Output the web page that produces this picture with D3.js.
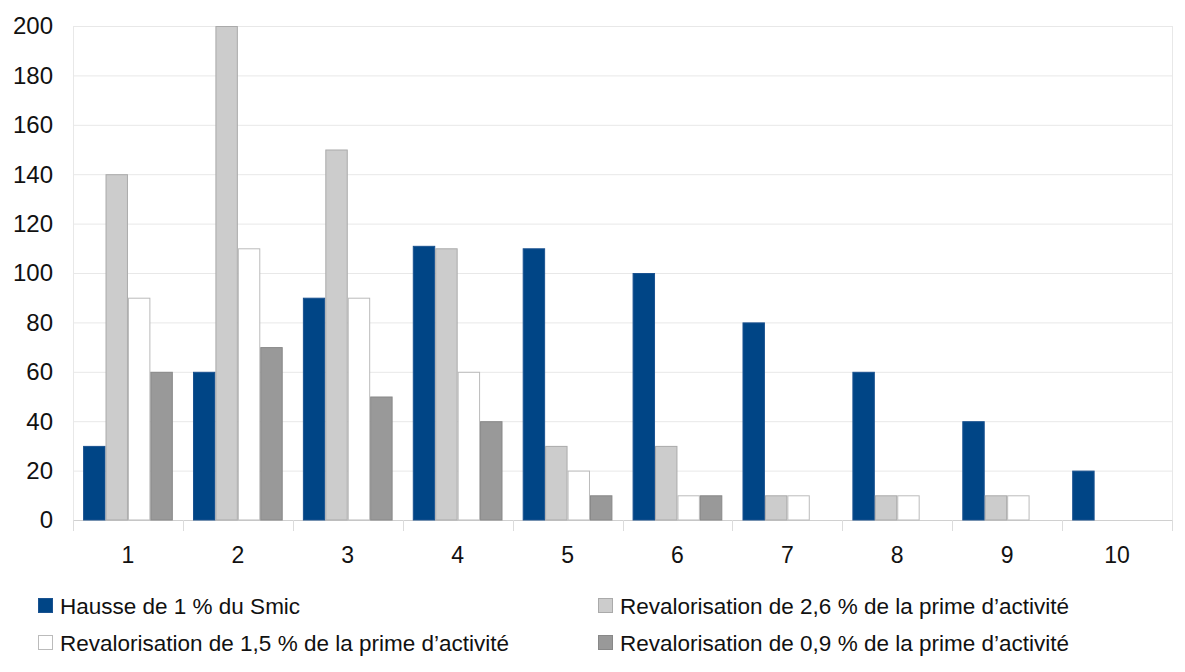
<!DOCTYPE html>
<html><head><meta charset="utf-8">
<script src="https://cdn.jsdelivr.net/npm/d3@7"></script>
<style>body{margin:0;background:#fff}svg{display:block}text{font-family:"Liberation Sans",Arial,sans-serif;fill:#111}</style>
</head><body><svg id="c" width="1185" height="672"></svg>
<script>
const categories = ["1","2","3","4","5","6","7","8","9","10"];
const seriesNames = ["Hausse de 1 % du Smic","Revalorisation de 2,6 % de la prime d’activité","Revalorisation de 1,5 % de la prime d’activité","Revalorisation de 0,9 % de la prime d’activité"];
const smic = [30,60,90,111,110,100,80,60,40,20];
const prime26 = [140,200,150,110,30,30,10,10,10,0];
const prime15 = [90,110,90,60,20,10,10,10,10,0];
const prime09 = [60,70,50,40,10,10,0,0,0,0];
const yTicks = [0,20,40,60,80,100,120,140,160,180,200];
const fills = ["#004586","#cccccc","#ffffff","#999999"];
const strokes = ["#1a5290","#aaaaaa","#bbbbbb","#888888"];
const series = [smic, prime26, prime15, prime09];

const svg = d3.select("#c");
const L = 73, R = 1172, T = 26, B = 520;
const x = d3.scaleBand().domain(categories).range([L,R]).paddingInner(0).paddingOuter(0);
const y = d3.scaleLinear().domain([0,200]).range([B,T]);
const inner = d3.scaleBand().domain(d3.range(4)).range([0,x.bandwidth()]).paddingOuter(0.45).paddingInner(0);

// horizontal grid
svg.append("g").selectAll("line").data(yTicks).join("line")
 .attr("x1",L).attr("x2",R).attr("y1",d=>y(d)+0.5).attr("y2",d=>y(d)+0.5)
 .attr("stroke",d=>d===0?"#d0d0d0":"#e8e8e8").attr("stroke-width",1);
// plot frame sides
svg.append("g").selectAll("line").data([L,R]).join("line")
 .attr("x1",d=>d+0.5).attr("x2",d=>d+0.5).attr("y1",T).attr("y2",B)
 .attr("stroke","#e8e8e8");
// x tick marks at category boundaries
const bounds = categories.map(c=>x(c)).concat([R]);
svg.append("g").selectAll("line").data(bounds).join("line")
 .attr("x1",d=>Math.round(d)+0.5).attr("x2",d=>Math.round(d)+0.5).attr("y1",B).attr("y2",B+11)
 .attr("stroke","#dcdcdc");
// y labels
svg.append("g").selectAll("text").data(yTicks).join("text")
 .attr("x",53).attr("y",d=>y(d)).attr("dy","0.35em").attr("text-anchor","end")
 .style("font-size","24px").text(d=>d);
// x labels
svg.append("g").selectAll("text").data(categories).join("text")
 .attr("x",d=>x(d)+x.bandwidth()/2).attr("y",555).attr("dy","0.35em").attr("text-anchor","middle")
 .style("font-size","23px").text(d=>d);
// bars
series.forEach((vals,si)=>{
  const data = vals.map((v,i)=>({c:categories[i],v})).filter(d=>d.v>0);
  svg.append("g").selectAll("rect").data(data).join("rect")
   .attr("x",d=>x(d.c)+inner(si)+0.5).attr("width",inner.bandwidth()-1)
   .attr("y",d=>y(d.v)+0.5).attr("height",d=>y(0)-y(d.v)-0.5)
   .attr("fill",fills[si]).attr("stroke",strokes[si]).attr("stroke-width",1);
});
// legend
const legPos = [[38,606],[598,606],[38,643],[598,643]];
seriesNames.forEach((n,i)=>{
  const g = svg.append("g").attr("transform",`translate(${legPos[i][0]},${legPos[i][1]})`);
  g.append("rect").attr("x",0.5).attr("y",-7.5).attr("width",14).attr("height",14)
   .attr("fill",fills[i]).attr("stroke",strokes[i]);
  g.append("text").attr("x",22).attr("y",0).attr("dy","0.35em").style("font-size","22.5px").text(n);
});
</script></body></html>
